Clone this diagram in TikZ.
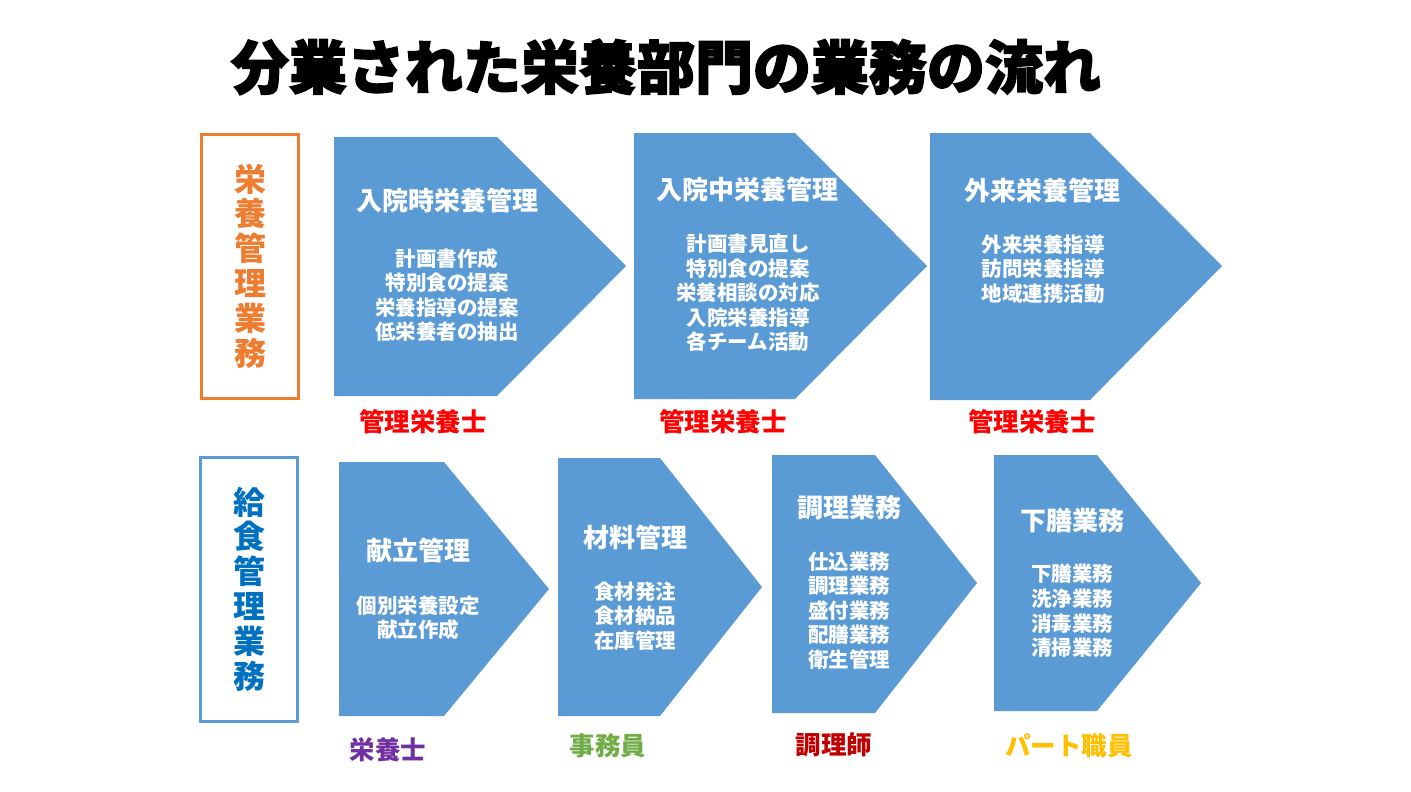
\documentclass[tikz,border=0pt]{standalone}
\usepackage{fontspec}
\setmainfont{Noto Sans CJK JP}
\newfontfamily\titlefont[BoldFeatures={FakeBold=2.5}]{Noto Sans CJK JP}
\definecolor{chevblue}{HTML}{5B9BD5}
\definecolor{catorange}{HTML}{ED7D31}
\definecolor{catblue}{HTML}{0070C0}
\definecolor{rolered}{HTML}{FF0000}
\definecolor{rolepurple}{HTML}{7030A0}
\definecolor{rolegreen}{HTML}{70AD47}
\definecolor{roledarkred}{HTML}{C00000}
\definecolor{rolegold}{HTML}{FFC000}
\begin{document}
\begin{tikzpicture}[x=1pt,y=-1pt,
  chev/.style={fill=chevblue},
  ctitle/.style={text=white,font=\fontsize{26}{30}\selectfont\bfseries,inner sep=0pt},
  cbody/.style={text=white,font=\fontsize{20.5}{24.6}\selectfont\bfseries,align=center,inner sep=0pt},
  role/.style={font=\fontsize{25.5}{30}\selectfont\bfseries,inner sep=0pt},
  catbox/.style={line width=3pt,minimum width=97pt,minimum height=264pt,inner sep=0pt,align=center,
    font=\fontsize{32}{34.8}\selectfont\bfseries}]
\useasboundingbox (0,0) rectangle (1411,792);
\fill[white] (0,0) rectangle (1411,792);

% title
\node[font=\titlefont\fontsize{58}{60}\selectfont\bfseries,inner sep=0pt] (title) at (666,67) {分業された栄養部門の業務の流れ};

% category boxes
\node[catbox,draw=catorange,text=catorange] (cat1) at (250,266) {栄\\養\\管\\理\\業\\務};
\node[catbox,draw=chevblue,text=catblue] (cat2) at (249,589) {給\\食\\管\\理\\業\\務};

% row 1 chevrons
\fill[chev] (334,137) -- (497,137) -- (626,266) -- (497,396) -- (334,396) -- cycle;
\fill[chev] (634,133) -- (795,133) -- (927,266) -- (795,399) -- (634,399) -- cycle;
\fill[chev] (930,133) -- (1090,133) -- (1222,266) -- (1090,400) -- (930,400) -- cycle;

\node[ctitle] (t1) at (447,201) {入院時栄養管理};
\node[cbody] (b1) at (447,295) {計画書作成\\特別食の提案\\栄養指導の提案\\低栄養者の抽出};
\node[ctitle] (t2) at (747,190) {入院中栄養管理};
\node[cbody] (b2) at (748,293) {計画書見直し\\特別食の提案\\栄養相談の対応\\入院栄養指導\\各チーム活動};
\node[ctitle] (t3) at (1042,191) {外来栄養管理};
\node[cbody] (b3) at (1043,269) {外来栄養指導\\訪問栄養指導\\地域連携活動};

\node[role,text=rolered] (r1) at (423,422) {管理栄養士};
\node[role,text=rolered] (r2) at (723,422) {管理栄養士};
\node[role,text=rolered] (r3) at (1032,422) {管理栄養士};

% row 2 chevrons
\fill[chev] (339,462) -- (444,462) -- (549,589) -- (444,716) -- (339,716) -- cycle;
\fill[chev] (558,458) -- (660,458) -- (762,587) -- (660,716) -- (558,716) -- cycle;
\fill[chev] (772,455) -- (875,455) -- (977,583) -- (875,713) -- (772,713) -- cycle;
\fill[chev] (994,455) -- (1097,455) -- (1201,583) -- (1097,711) -- (994,711) -- cycle;

\node[ctitle] (t4) at (418,551) {献立管理};
\node[cbody] (b4) at (418,618) {個別栄養設定\\献立作成};
\node[ctitle] (t5) at (635,538) {材料管理};
\node[cbody] (b5) at (635,616) {食材発注\\食材納品\\在庫管理};
\node[ctitle] (t6) at (849,508) {調理業務};
\node[cbody] (b6) at (849,610.5) {仕込業務\\調理業務\\盛付業務\\配膳業務\\衛生管理};
\node[ctitle] (t7) at (1072,521) {下膳業務};
\node[cbody] (b7) at (1072,611) {下膳業務\\洗浄業務\\消毒業務\\清掃業務};

\node[role,text=rolepurple] (r4) at (388,750) {栄養士};
\node[role,text=rolegreen] (r5) at (608,746) {事務員};
\node[role,text=roledarkred] (r6) at (834,745) {調理師};
\node[role,text=rolegold] (r7) at (1069,746) {パート職員};
\end{tikzpicture}
\end{document}
